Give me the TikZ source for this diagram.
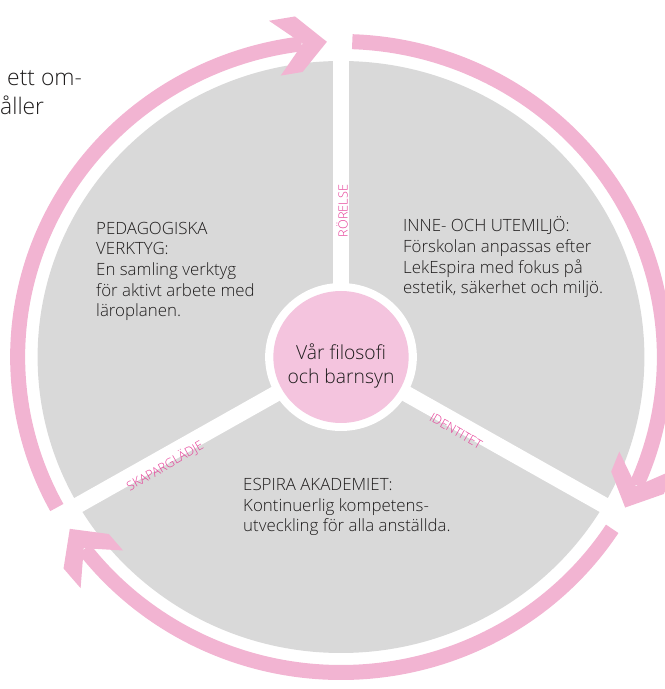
\documentclass[tikz,border=0pt]{standalone}
\usepackage{fontspec}
\setmainfont{Open Sans}[UprightFont=* Light]
\usepackage{tikz}
\usetikzlibrary{positioning}
\definecolor{esgray}{RGB}{217,217,217}
\definecolor{espink}{RGB}{242,180,210}
\definecolor{escore}{RGB}{244,196,222}
\definecolor{esmagenta}{RGB}{230,60,150}
\definecolor{estext}{RGB}{30,28,28}
\tikzstyle{ring} = [draw=espink, line width=0.45cm]
\tikzstyle{spoke} = [draw=white, line width=0.48cm]
\tikzstyle{block} = [font=\fontsize{14.4}{17.7}\selectfont, align=left, anchor=base west, inner sep=0pt, text=estext]
\tikzstyle{spokelabel} = [font=\fontsize{10.8}{10.8}\selectfont, text=esmagenta, inner sep=0pt]

\begin{document}
\begin{tikzpicture}[x=0.03cm, y=0.03cm]
    \clip (0,0) rectangle (665,689);

    % Page text cut off at the left
    \node[block, font=\fontsize{19.5}{24.8}\selectfont] (cut1) at (7,603) {ett om-};
    \node[block, font=\fontsize{19.5}{24.8}\selectfont] (cut2) at (0,574) {åller};

    \begin{scope}[shift={(341,332)}, xscale=1.025]
        % Disc
        \fill[esgray] (0,0) circle[radius=296];

        % Cycle arrows
        \foreach \s/\t in {208.5/92.5, 88/-28.5, -33/-147}{
            \draw[ring] (\s:315.5) arc[start angle=\s, end angle=\t+4.5, radius=315.5];
            \fill[espink] (\t:315.5) -- ({\t+5}:343.5) -- ({\t+9.3}:343.5) -- ({\t+4.3}:315.5)
                -- ({\t+9.3}:287.5) -- ({\t+5}:287.5) -- cycle;
        }

        % Spokes
        \foreach \a in {90, 210, 330}
            \draw[spoke] (0,0) -- (\a:305);
        \fill[white] (0,0) circle[radius=74];
        \fill[escore] (0,0) circle[radius=66];
    \end{scope}

    % Centre
    \coordinate (core) at (341,332);
    \node[font=\fontsize{16.5}{21.3}\selectfont, align=center, anchor=base, inner sep=0pt, text=estext] (coretext) at (341,305) {Vår filosofi\\och barnsyn};

    % Spoke labels
    \node[spokelabel, rotate=90] (rorelse) at (342,478) {RÖRELSE};
    \node[spokelabel, rotate=30] (skapar) at (165,223) {SKAPARGLÄDJE};
    \node[spokelabel, rotate=-30] (identitet) at (456,258) {IDENTITET};

    % Sectors
    \node[block] (verktyg) at (96,372) {PEDAGOGISKA\\VERKTYG:\\En samling verktyg\\för aktivt arbete med\\läroplanen.};
    \node[block] (miljo) at (403,395) {INNE- OCH UTEMILJÖ:\\Förskolan anpassas efter\\LekEspira med fokus på\\estetik, säkerhet och miljö.};
    \node[block] (akademi) at (243,157) {ESPIRA AKADEMIET:\\Kontinuerlig kompetens-\\utveckling för alla anställda.};
\end{tikzpicture}
\end{document}
